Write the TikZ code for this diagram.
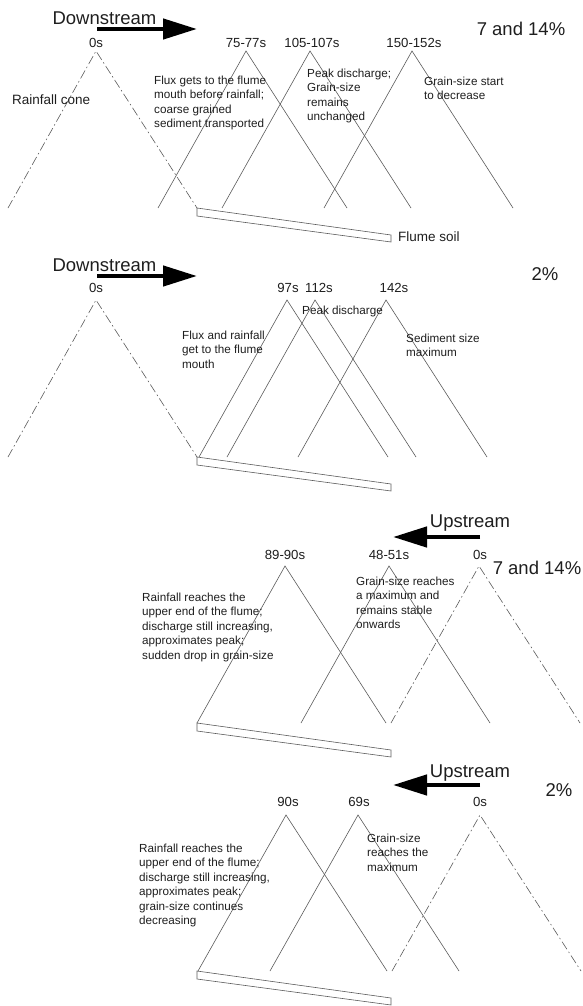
\documentclass[tikz,border=0pt]{standalone}
\usepackage{fontspec}
\setmainfont{Liberation Sans}
\usetikzlibrary{arrows.meta}
\definecolor{ln}{HTML}{5A5A5A}
\definecolor{tx}{HTML}{1E1E1E}
\newcommand\drawV[5]{%
  \coordinate (#1-l) at (#2,#4);
  \coordinate (#1-a) at ({#2+88},#3);
  \coordinate (#1-r) at ({#2+189},#4);
  \draw[#5] (#1-l) -- (#1-a) -- (#1-r);}
\newcommand\drawflume[2]{%
  \coordinate (#1-tl) at (197,#2);
  \coordinate (#1-tr) at (391,{#2+27});
  \coordinate (#1-br) at (391,{#2+34});
  \coordinate (#1-bl) at (197,{#2+8});
  \draw[flume] (#1-tl) -- (#1-tr) -- (#1-br) -- (#1-bl) -- cycle;}
\begin{document}
\begin{tikzpicture}[x=1pt,y=-1pt,
  big/.style={font=\fontsize{18.5}{22}\selectfont, inner sep=0, text=tx},
  tlab/.style={font=\fontsize{13.2}{16}\selectfont, inner sep=0, text=tx},
  body/.style={font=\fontsize{11.7}{14.5}\selectfont, align=left, anchor=north west, inner sep=0, text=tx},
  mid/.style={font=\fontsize{13.5}{16}\selectfont, inner sep=0, anchor=west, text=tx},
  leg/.style={draw=ln, line width=0.6pt},
  cone/.style={leg, dash pattern=on 9pt off 3pt on 1.5pt off 3pt},
  flume/.style={draw=ln, line width=0.6pt},
  bigarrow/.style={line width=4.5pt, -{Triangle[length=34pt,width=20pt]}}
]
\useasboundingbox (0,0) rectangle (583,1006);

% ---------- Panel 1 ----------
\node[big] (ds1) at (104.5,18.5) {Downstream};
\coordinate (d1s) at (97,29); \coordinate (d1e) at (197,29);
\draw[bigarrow] (d1s) -- (d1e);
\node[big] (p1pct) at (521,29) {7 and 14\%};
\node[tlab] (t1a) at (96,43) {0s};
\node[tlab] (t1b) at (246,43) {75-77s};
\node[tlab] (t1c) at (312,43) {105-107s};
\node[tlab] (t1d) at (414,43) {150-152s};
\drawV{c1}{8}{51}{208}{cone}
\drawV{v1a}{158}{51}{208}{leg}
\drawV{v1b}{222}{51}{208}{leg}
\drawV{v1c}{324}{51}{208}{leg}
\node[mid] (rc) at (12,100) {Rainfall cone};
\node[body] (n1a) at (154,75.5) {Flux gets to the flume\\mouth before rainfall;\\coarse grained\\sediment transported};
\node[body] (n1b) at (307,68.5) {Peak discharge;\\Grain-size\\remains\\unchanged};
\node[body] (n1c) at (424,76.5) {Grain-size start\\to decrease};
\drawflume{f1}{208}
\node[mid] (fs) at (398,237) {Flume soil};

% ---------- Panel 2 ----------
\node[big] (ds2) at (104.5,265) {Downstream};
\coordinate (d2s) at (97,276); \coordinate (d2e) at (197,276);
\draw[bigarrow] (d2s) -- (d2e);
\node[big] (p2pct) at (545,274) {2\%};
\node[tlab] (t2a) at (96,288) {0s};
\node[tlab] (t2b) at (288,288) {97s};
\node[tlab] (t2c) at (319,288) {112s};
\node[tlab] (t2d) at (394,288) {142s};
\drawV{c2}{8}{300}{457}{cone}
\drawV{v2a}{199}{300}{457}{leg}
\drawV{v2b}{227}{300}{457}{leg}
\drawV{v2c}{298}{300}{457}{leg}
\node[body] (n2a) at (182,330.5) {Flux and rainfall\\get to the flume\\mouth};
\node[body] (n2b) at (302,305.5) {Peak discharge};
\node[body] (n2c) at (406,333.5) {Sediment size\\maximum};
\drawflume{f2}{457}

% ---------- Panel 3 ----------
\node[big] (us3) at (470,523) {Upstream};
\coordinate (u3s) at (480,537); \coordinate (u3e) at (393,537);
\draw[bigarrow] (u3s) -- (u3e);
\node[big] (p3pct) at (537,568) {7 and 14\%};
\node[tlab] (t3a) at (285,555) {89-90s};
\node[tlab] (t3b) at (389,555) {48-51s};
\node[tlab] (t3c) at (480,555) {0s};
\drawV{v3a}{197}{566}{723}{leg}
\drawV{v3b}{301}{566}{723}{leg}
\drawV{c3}{391}{566}{723}{cone}
\node[body] (n3a) at (142,592.5) {Rainfall reaches the\\upper end of the flume;\\discharge still increasing,\\approximates peak;\\sudden drop in grain-size};
\node[body] (n3b) at (356,576.5) {Grain-size reaches\\a maximum and\\remains stable\\onwards};
\drawflume{f3}{723}

% ---------- Panel 4 ----------
\node[big] (us4) at (470,773) {Upstream};
\coordinate (u4s) at (480,785); \coordinate (u4e) at (393,785);
\draw[bigarrow] (u4s) -- (u4e);
\node[big] (p4pct) at (559,790) {2\%};
\node[tlab] (t4a) at (288,802) {90s};
\node[tlab] (t4b) at (359,802) {69s};
\node[tlab] (t4c) at (480,802) {0s};
\drawV{v4a}{198}{815}{971}{leg}
\drawV{v4b}{270}{815}{971}{leg}
\drawV{c4}{392}{815}{971}{cone}
\node[body] (n4a) at (139,843.5) {Rainfall reaches the\\upper end of the flume;\\discharge still increasing,\\approximates peak;\\grain-size continues\\decreasing};
\node[body] (n4b) at (367,833.5) {Grain-size\\reaches the\\maximum};
\drawflume{f4}{971}
\end{tikzpicture}
\end{document}
